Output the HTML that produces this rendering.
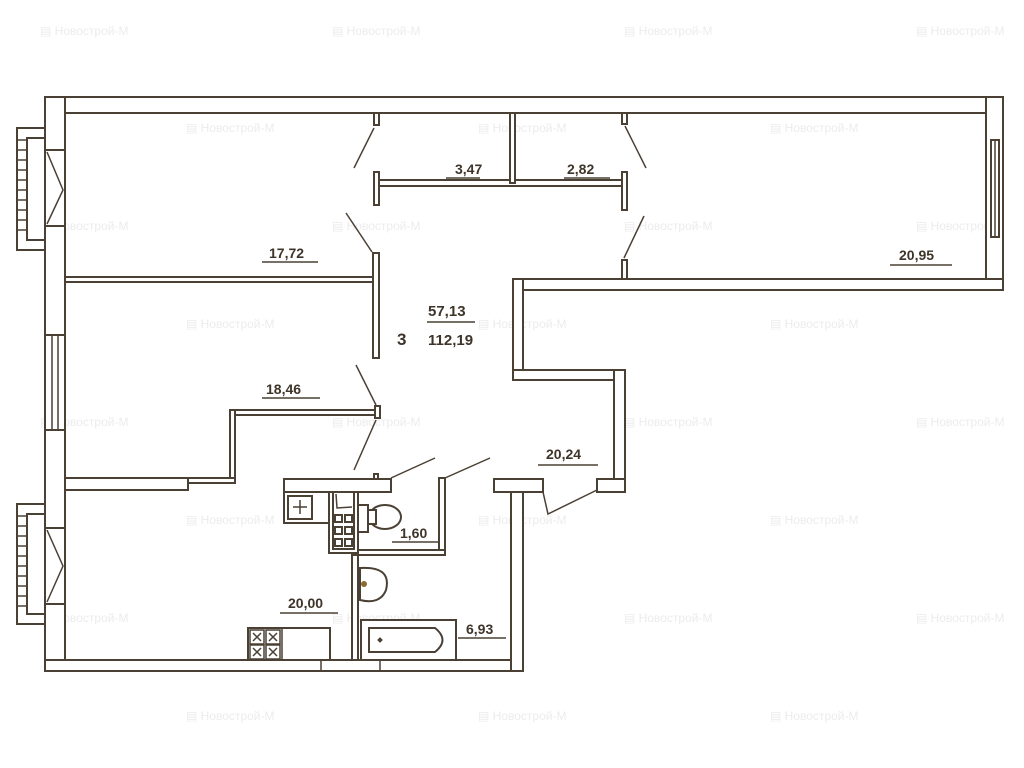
<!DOCTYPE html>
<html><head><meta charset="utf-8"><style>
html,body{margin:0;padding:0;background:#fff;width:1024px;height:768px;overflow:hidden}
svg{display:block}
.w{fill:#fff;stroke:#4a4034;stroke-width:2}
.l{stroke:#4a4034;stroke-width:1.5;fill:none}
.t{font-family:"Liberation Sans",sans-serif;font-weight:bold;font-size:14px;fill:#3e342a}
.wm{font-family:"Liberation Sans",sans-serif;font-size:12px;fill:#ececec}
</style></head><body>
<svg width="1024" height="768" viewBox="0 0 1024 768">
<g class="wm">
<text x="40" y="35">▤ Новострой-М</text><text x="332" y="35">▤ Новострой-М</text><text x="624" y="35">▤ Новострой-М</text><text x="916" y="35">▤ Новострой-М</text>
<text x="186" y="132">▤ Новострой-М</text><text x="478" y="132">▤ Новострой-М</text><text x="770" y="132">▤ Новострой-М</text>
<text x="40" y="230">▤ Новострой-М</text><text x="332" y="230">▤ Новострой-М</text><text x="624" y="230">▤ Новострой-М</text><text x="916" y="230">▤ Новострой-М</text>
<text x="186" y="328">▤ Новострой-М</text><text x="478" y="328">▤ Новострой-М</text><text x="770" y="328">▤ Новострой-М</text>
<text x="40" y="426">▤ Новострой-М</text><text x="332" y="426">▤ Новострой-М</text><text x="624" y="426">▤ Новострой-М</text><text x="916" y="426">▤ Новострой-М</text>
<text x="186" y="524">▤ Новострой-М</text><text x="478" y="524">▤ Новострой-М</text><text x="770" y="524">▤ Новострой-М</text>
<text x="40" y="622">▤ Новострой-М</text><text x="332" y="622">▤ Новострой-М</text><text x="624" y="622">▤ Новострой-М</text><text x="916" y="622">▤ Новострой-М</text>
<text x="186" y="720">▤ Новострой-М</text><text x="478" y="720">▤ Новострой-М</text><text x="770" y="720">▤ Новострой-М</text>
</g>
<!-- outer walls -->
<rect class="w" x="45" y="97" width="958" height="16"/>
<rect class="w" x="986" y="97" width="17" height="192"/>
<rect class="w" x="45" y="97" width="20" height="574"/>
<rect class="w" x="513" y="279" width="490" height="11"/>
<rect class="w" x="513" y="279" width="10" height="101"/>
<rect class="w" x="513" y="370" width="112" height="10"/>
<rect class="w" x="614" y="370" width="11" height="122"/>
<rect class="w" x="45" y="660" width="478" height="11"/>
<rect class="w" x="511" y="479" width="12" height="192"/>
<rect class="w" x="494" y="479" width="49" height="13"/>
<rect class="w" x="597" y="479" width="28" height="13"/>
<polyline class="l" points="543,492 548,514 597,490"/>
<!-- right window -->
<rect class="w" x="991" y="140" width="8" height="97"/>
<line class="l" x1="995" y1="140" x2="995" y2="237"/>
<!-- left windows/balconies -->
<rect class="w" x="17" y="128" width="28" height="122"/>
<rect class="w" x="27" y="138" width="18" height="102"/>
<rect class="w" x="45" y="150" width="20" height="76"/>
<polyline class="l" points="47,152 63,190 47,224"/>
<rect class="w" x="45" y="335" width="20" height="95"/>
<line class="l" x1="52" y1="335" x2="52" y2="430"/><line class="l" x1="58" y1="335" x2="58" y2="430"/>
<rect class="w" x="17" y="504" width="28" height="120"/>
<rect class="w" x="27" y="514" width="18" height="100"/>
<rect class="w" x="45" y="528" width="20" height="76"/>
<polyline class="l" points="47,530 63,566 47,602"/>
<g class="l" stroke-width="1">
<line x1="17" y1="140" x2="27" y2="140"/><line x1="17" y1="150" x2="27" y2="150"/><line x1="17" y1="160" x2="27" y2="160"/><line x1="17" y1="170" x2="27" y2="170"/><line x1="17" y1="180" x2="27" y2="180"/><line x1="17" y1="190" x2="27" y2="190"/><line x1="17" y1="200" x2="27" y2="200"/><line x1="17" y1="210" x2="27" y2="210"/><line x1="17" y1="220" x2="27" y2="220"/><line x1="17" y1="230" x2="27" y2="230"/>
<line x1="17" y1="516" x2="27" y2="516"/><line x1="17" y1="526" x2="27" y2="526"/><line x1="17" y1="536" x2="27" y2="536"/><line x1="17" y1="546" x2="27" y2="546"/><line x1="17" y1="556" x2="27" y2="556"/><line x1="17" y1="566" x2="27" y2="566"/><line x1="17" y1="576" x2="27" y2="576"/><line x1="17" y1="586" x2="27" y2="586"/><line x1="17" y1="596" x2="27" y2="596"/><line x1="17" y1="606" x2="27" y2="606"/>
</g>
<!-- interior partitions -->
<rect class="w" x="65" y="277" width="313" height="5"/>
<rect class="w" x="373" y="253" width="6" height="105"/>
<rect class="w" x="374" y="113" width="5" height="12"/>
<line class="l" x1="374" y1="128" x2="354" y2="168"/>
<line class="l" x1="372" y1="252" x2="346" y2="213"/>
<rect class="w" x="374" y="172" width="5" height="33"/>
<rect class="w" x="379" y="180" width="248" height="6"/>
<rect class="w" x="622" y="172" width="5" height="38"/>
<rect class="w" x="510" y="113" width="5" height="70"/>
<rect class="w" x="622" y="113" width="5" height="11"/>
<line class="l" x1="625" y1="126" x2="646" y2="168"/>
<rect class="w" x="622" y="260" width="5" height="19"/>
<line class="l" x1="624" y1="258" x2="644" y2="216"/>
<!-- 18.46 room bottom -->
<rect class="w" x="232" y="410" width="146" height="5"/>
<rect class="w" x="375" y="406" width="5" height="12"/>
<rect class="w" x="230" y="410" width="5" height="72"/>
<rect class="w" x="180" y="478" width="55" height="5"/>
<rect class="w" x="65" y="478" width="123" height="12"/>
<line class="l" x1="376" y1="405" x2="356" y2="365"/>
<line class="l" x1="376" y1="420" x2="354" y2="470"/>
<!-- kitchen/wc block -->
<rect class="w" x="284" y="479" width="107" height="13"/>
<rect class="w" x="374" y="474" width="4" height="5"/>
<line class="l" x1="391" y1="478" x2="435" y2="458"/>
<rect class="w" x="284" y="492" width="45" height="31"/>
<rect class="w" x="288" y="496" width="24" height="23"/>
<line class="l" x1="300" y1="500" x2="300" y2="514"/><line class="l" x1="293" y1="507" x2="307" y2="507"/>
<rect class="w" x="329" y="492" width="29" height="61"/>
<rect class="w" x="333" y="492" width="21" height="57"/>
<polyline class="l" points="336,494 337,508 352,507"/>
<rect class="w" x="335" y="515" width="7" height="7"/><rect class="w" x="345" y="515" width="7" height="7"/>
<rect class="w" x="335" y="527" width="7" height="7"/><rect class="w" x="345" y="527" width="7" height="7"/>
<rect class="w" x="335" y="539" width="7" height="7"/><rect class="w" x="345" y="539" width="7" height="7"/>
<rect class="w" x="358" y="505" width="10" height="27"/>
<ellipse class="w" cx="385" cy="517" rx="16" ry="12"/>
<rect class="w" x="368" y="510" width="8" height="14"/>
<rect class="w" x="439" y="478" width="6" height="77"/>
<line class="l" x1="445" y1="478" x2="490" y2="458"/>
<rect class="w" x="358" y="550" width="87" height="5"/>
<rect class="w" x="352" y="555" width="6" height="105"/>
<!-- bathroom -->
<path class="w" d="M360,568 Q392,566 386,590 Q380,605 360,600 Z"/>
<circle cx="364" cy="584" r="3" fill="#8a6a30"/>
<rect class="w" x="361" y="620" width="95" height="40"/>
<path class="w" d="M369,628 H435 Q450,640 435,652 H369 Z"/>
<rect x="378" y="638" width="4" height="4" fill="#4a4034" transform="rotate(45 380 640)"/>
<line class="l" x1="380" y1="660" x2="380" y2="671"/>
<line class="l" x1="321" y1="660" x2="321" y2="671"/>
<!-- kitchen counter -->
<rect class="w" x="248" y="628" width="82" height="32"/>
<line class="l" x1="282" y1="628" x2="282" y2="660"/>
<g class="l" stroke-width="1">
<rect x="250" y="630" width="14" height="14"/><rect x="266" y="630" width="14" height="14"/><rect x="250" y="645" width="14" height="14"/><rect x="266" y="645" width="14" height="14"/>
<path d="M253,633 l8,8 M261,633 l-8,8 M269,633 l8,8 M277,633 l-8,8 M253,648 l8,8 M261,648 l-8,8 M269,648 l8,8 M277,648 l-8,8"/>
</g>
<!-- labels -->
<g class="t">
<text x="269" y="258">17,72</text><line class="l" x1="262" y1="262" x2="318" y2="262"/>
<text x="266" y="394">18,46</text><line class="l" x1="262" y1="398" x2="320" y2="398"/>
<text x="455" y="174">3,47</text><line class="l" x1="446" y1="178" x2="480" y2="178"/>
<text x="567" y="174">2,82</text><line class="l" x1="564" y1="178" x2="610" y2="178"/>
<text x="899" y="260">20,95</text><line class="l" x1="890" y1="265" x2="952" y2="265"/>
<text x="428" y="316" font-size="15">57,13</text><line class="l" x1="427" y1="322" x2="475" y2="322"/>
<text x="428" y="345" font-size="15">112,19</text>
<text x="397" y="345" font-size="17">3</text>
<text x="546" y="459">20,24</text><line class="l" x1="538" y1="465" x2="598" y2="465"/>
<text x="400" y="538">1,60</text><line class="l" x1="392" y1="542" x2="440" y2="542"/>
<text x="288" y="608">20,00</text><line class="l" x1="280" y1="613" x2="338" y2="613"/>
<text x="466" y="634">6,93</text><line class="l" x1="458" y1="638" x2="506" y2="638"/>
</g>
</svg>
</body></html>
